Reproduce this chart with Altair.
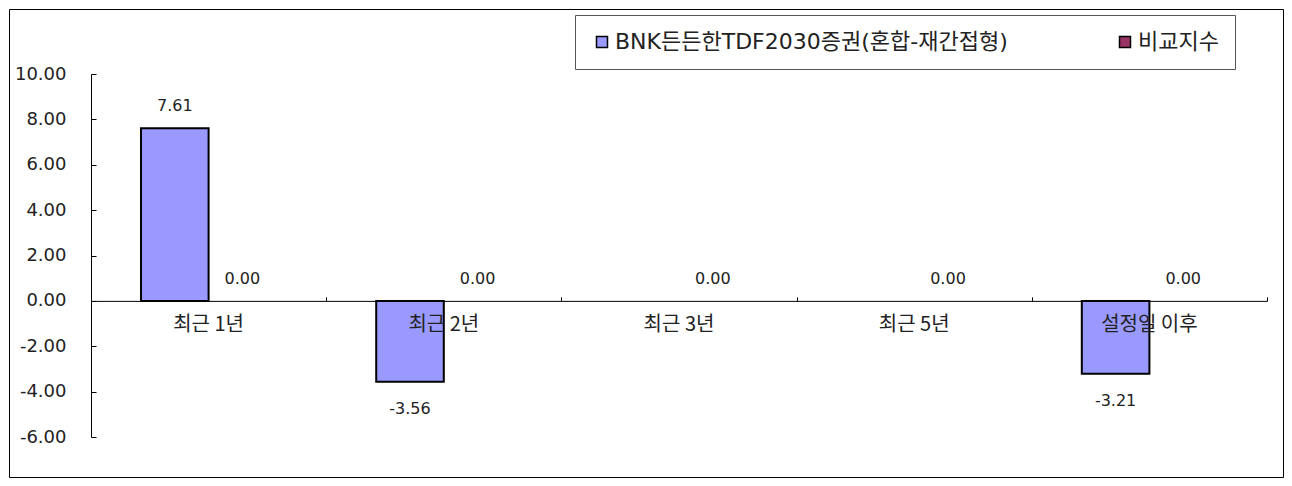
import altair as alt
import pandas as pd

categories = ["최근 1년", "최근 2년", "최근 3년", "최근 5년", "설정일 이후"]
series_names = ["BNK든든한TDF2030증권(혼합-재간접형)", "비교지수"]
fund_values = [7.61, -3.56, None, None, -3.21]
bench_values = [0.00, 0.00, 0.00, 0.00, 0.00]
y_ticks = [-6, -4, -2, 0, 2, 4, 6, 8, 10]
colors = ["#9999FF", "#993366"]

rows = []
for i, c in enumerate(categories):
    rows.append({"cat": c, "series": series_names[0], "value": fund_values[i]})
    rows.append({"cat": c, "series": series_names[1], "value": bench_values[i]})
df = pd.DataFrame(rows)

# layout (view coordinates)
PAD = 1
W, H = 1274, 468
Y_TOP, Y_BOT = 65, 428
X0, X1 = 82, 1258
DMIN, DMAX = -6, 10
y0 = Y_BOT - (Y_BOT - Y_TOP) * (0 - DMIN) / (DMAX - DMIN)

NUM_FONT = "DejaVu Sans"
KR_FONT = "Noto Sans CJK KR"
MIX_FONT = "DejaVu Sans, Noto Sans CJK KR"
TXT = "#222222"
FMT = "replace(format(datum.value, '.2f'), '\u2212', '-')"

yscale = alt.Scale(domain=[DMIN, DMAX], range=[Y_BOT, Y_TOP], nice=False, zero=False)
xscale = alt.Scale(domain=categories, range=[X0, X1], paddingInner=0, paddingOuter=0)
oscale = alt.Scale(domain=series_names, paddingInner=0, paddingOuter=0.74)

base = alt.Chart(df)

bars = base.mark_bar(stroke="black").encode(
    x=alt.X("cat:N", scale=xscale, sort=categories, title=None,
            axis=alt.Axis(orient="bottom", offset=y0 - H, domain=False, ticks=False,
                          tickSize=0, labelPadding=14, labelAngle=0, labelFont=KR_FONT,
                          labelFontSize=20, labelColor=TXT, labelOverlap=False,
                          labelLimit=0, grid=False, zindex=1)),
    xOffset=alt.XOffset("series:N", scale=oscale, sort=series_names),
    y=alt.Y("value:Q", scale=yscale, title=None,
            axis=alt.Axis(orient="left", offset=-X0, values=y_ticks,
                          labelExpr=FMT,
                          domain=True, domainColor="black", domainWidth=1,
                          ticks=False, tickSize=0, labelPadding=25,
                          labelFont=NUM_FONT, labelFontSize=18, labelColor=TXT,
                          labelFlush=False, labelOverlap=False, grid=False)),
    color=alt.Color("series:N", scale=alt.Scale(domain=series_names, range=colors),
                    legend=alt.Legend(orient="none", legendX=566, legendY=6,
                                      direction="horizontal", title=None,
                                      symbolType="square", symbolSize=121,
                                      symbolStrokeColor="black", symbolStrokeWidth=1.5,
                                      symbolOpacity=1,
                                      labelFont=MIX_FONT, labelFontSize=22,
                                      labelColor=TXT, labelLimit=0, labelOffset=2,
                                      columnPadding=106, padding=16,
                                      strokeColor="#555555", fillColor="white")),
    strokeWidth=alt.condition("datum.value == 0", alt.value(0), alt.value(2)),
)

pos_text = base.transform_filter("datum.value >= 0").transform_calculate(
    label=FMT
).mark_text(
    font=NUM_FONT, fontSize=16, color=TXT, baseline="middle", align="center", dy=-22
).encode(
    x=alt.X("cat:N", scale=xscale, sort=categories, axis=None),
    xOffset=alt.XOffset("series:N", scale=oscale, sort=series_names),
    y=alt.Y("value:Q", scale=yscale, axis=None),
    text=alt.Text("label:N"),
)

neg_text = base.transform_filter("datum.value < 0").transform_calculate(
    label=FMT
).mark_text(
    font=NUM_FONT, fontSize=16, color=TXT, baseline="middle", align="center", dy=27
).encode(
    x=alt.X("cat:N", scale=xscale, sort=categories, axis=None),
    xOffset=alt.XOffset("series:N", scale=oscale, sort=series_names),
    y=alt.Y("value:Q", scale=yscale, axis=None),
    text=alt.Text("label:N"),
)

# invisible layer carrying the axis line at zero and the inward ticks
tick_layer = base.mark_point(opacity=0).encode(
    x=alt.X("cat:N", scale=xscale, sort=categories, title=None,
            axis=alt.Axis(orient="top", offset=-y0, labels=False, domain=True,
                          domainColor="black", domainWidth=1, ticks=True, tickSize=4,
                          tickColor="black", tickBand="extent", grid=False)),
    y=alt.Y("value:Q", scale=yscale, title=None,
            axis=alt.Axis(orient="right", offset=-(W - X0), values=y_ticks,
                          labels=False, domain=False, ticks=True, tickSize=5,
                          tickColor="black", grid=False)),
)

chart = alt.layer(bars, pos_text, neg_text, tick_layer).resolve_axis(
    x="independent", y="independent"
).properties(
    width=W, height=H,
    padding={"left": PAD, "top": PAD, "right": PAD, "bottom": PAD},
    background="white",
).configure_view(stroke="black", strokeWidth=1)

chart.save("out.html", embed_options={"renderer": "svg", "actions": False})
